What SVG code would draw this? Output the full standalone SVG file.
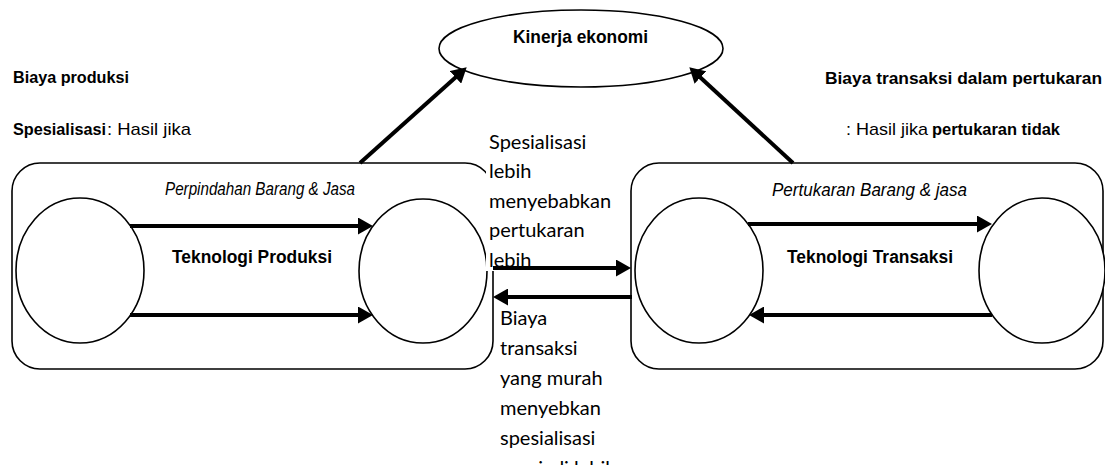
<svg xmlns="http://www.w3.org/2000/svg" width="1105" height="465" viewBox="0 0 1105 465">
<style>
.shape{fill:#fff;stroke:#000;stroke-width:1.6}
.box{fill:none;stroke:#000;stroke-width:1.6}
.t{font-family:"Liberation Sans",Arial,sans-serif;fill:#000}
.b{font-weight:bold}
.i{font-style:italic}
.c{font-family:Lato,"Open Sans",sans-serif;font-size:20px;fill:#000}
.arr{stroke:#000;stroke-width:4;fill:none;marker-end:url(#ah)}
</style>
<defs>
<marker id="ah" markerUnits="userSpaceOnUse" markerWidth="15" markerHeight="17" refX="4" refY="8.5" orient="auto">
<path d="M0,0 L15,8.5 L0,17 z" fill="#000"/>
</marker>
</defs>
<rect width="1105" height="465" fill="#fff"/>

<g id="kinerja">
<ellipse class="shape" cx="581" cy="48.5" rx="142" ry="38.5"/>
<text class="t b" x="513" y="43" font-size="18.5" textLength="135" lengthAdjust="spacingAndGlyphs">Kinerja ekonomi</text>
</g>

<g id="biaya-produksi">
<text class="t b" x="13" y="83" font-size="17" textLength="116" lengthAdjust="spacingAndGlyphs">Biaya produksi</text>
<text class="t b" x="13" y="135" font-size="17" textLength="93" lengthAdjust="spacingAndGlyphs">Spesialisasi</text>
<text class="t" x="107" y="135" font-size="17" textLength="84" lengthAdjust="spacingAndGlyphs">: Hasil jika</text>
</g>

<g id="biaya-transaksi">
<text class="t b" x="825" y="84" font-size="17" textLength="277" lengthAdjust="spacingAndGlyphs">Biaya transaksi dalam pertukaran</text>
<text class="t" x="846" y="135" font-size="17" textLength="82" lengthAdjust="spacingAndGlyphs">: Hasil jika</text>
<text class="t b" x="932" y="135" font-size="17" textLength="128" lengthAdjust="spacingAndGlyphs">pertukaran tidak</text>
</g>

<g id="perpindahan">
<rect class="box" x="12" y="163" width="481" height="206" rx="28" ry="28"/>
<text class="t i" x="165" y="195" font-size="18" textLength="190" lengthAdjust="spacingAndGlyphs">Perpindahan Barang &amp; Jasa</text>
<text class="t b" x="172" y="263" font-size="18" textLength="160" lengthAdjust="spacingAndGlyphs">Teknologi Produksi</text>
</g>
<g id="prod-a"><ellipse class="shape" cx="80" cy="270.5" rx="64" ry="72.5"/></g>
<g id="prod-b"><ellipse class="shape" cx="423" cy="271" rx="64" ry="72"/></g>

<g id="pertukaran">
<rect class="box" x="631" y="163" width="472" height="206" rx="28" ry="28"/>
<text class="t i" x="772" y="196" font-size="18" textLength="195" lengthAdjust="spacingAndGlyphs">Pertukaran Barang &amp; jasa</text>
<text class="t b" x="787" y="263" font-size="18" textLength="166" lengthAdjust="spacingAndGlyphs">Teknologi Transaksi</text>
</g>
<g id="trans-a"><ellipse class="shape" cx="699" cy="270.5" rx="64" ry="72.5"/></g>
<g id="trans-b"><ellipse class="shape" cx="1042" cy="270.5" rx="63" ry="72.5"/></g>

<g id="note-top">
<rect x="486" y="128" width="118" height="143" fill="#fff"/>
<text class="c" x="489" y="149">Spesialisasi</text>
<text class="c" x="489" y="178">lebih</text>
<text class="c" x="489" y="208">menyebabkan</text>
<text class="c" x="489" y="237">pertukaran</text>
<text class="c" x="489" y="267">lebih</text>
</g>

<g id="note-bottom">
<text class="c" x="500" y="325">Biaya</text>
<text class="c" x="500" y="355">transaksi</text>
<text class="c" x="500" y="385">yang murah</text>
<text class="c" x="500" y="415">menyebkan</text>
<text class="c" x="500" y="445">spesialisasi</text>
<text class="c" x="500" y="475">menjadi lebih</text>
</g>

<g id="connectors">
<line class="arr" x1="360" y1="163" x2="458.5" y2="74.7"/>
<line class="arr" x1="793" y1="163" x2="697.4" y2="74.8"/>
<line class="arr" x1="130" y1="226" x2="362" y2="226"/>
<line class="arr" x1="130" y1="315" x2="362" y2="315"/>
<line class="arr" x1="748" y1="224" x2="981" y2="224"/>
<line class="arr" x1="992" y1="315" x2="760" y2="315"/>
<line class="arr" x1="493" y1="268" x2="620" y2="268"/>
<line class="arr" x1="632" y1="297" x2="504" y2="297"/>
</g>
</svg>
